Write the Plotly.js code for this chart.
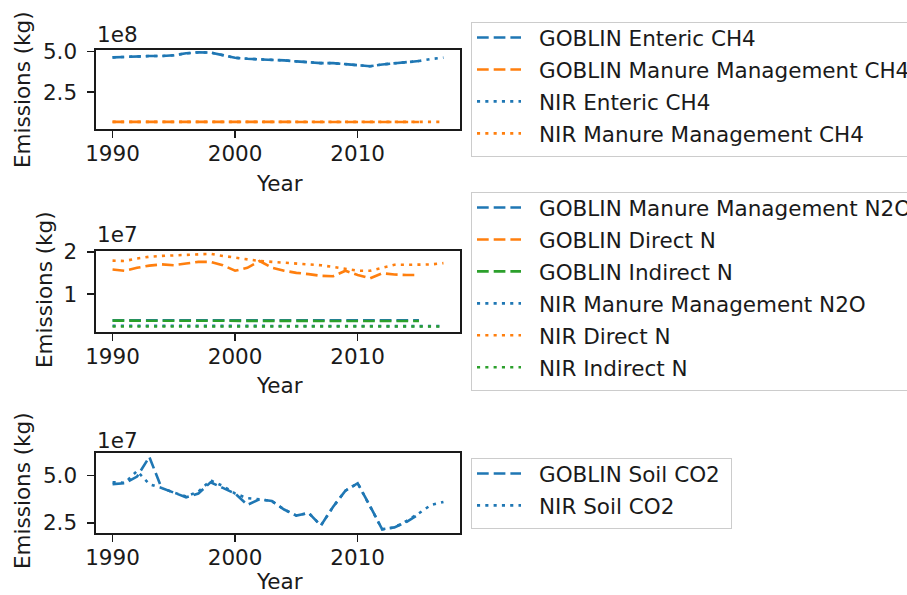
<!DOCTYPE html>
<html>
<head>
<meta charset="utf-8">
<script src="https://cdn.plot.ly/plotly-3.0.1.min.js"></script>
<style>
  html, body { margin: 0; padding: 0; background: #ffffff; }
  #chart { width: 907px; height: 595px; }
</style>
</head>
<body>
<div id="chart"></div>
<script>
// Inventory years
const yearsNIR = [1990, 1991, 1992, 1993, 1994, 1995, 1996, 1997, 1998, 1999,
                  2000, 2001, 2002, 2003, 2004, 2005, 2006, 2007, 2008, 2009,
                  2010, 2011, 2012, 2013, 2014, 2015, 2016, 2017];
const yearsGOBLIN = [1990, 1991, 1992, 1993, 1994, 1995, 1996, 1997, 1998, 1999,
                     2000, 2001, 2002, 2003, 2004, 2005, 2006, 2007, 2008, 2009,
                     2010, 2011, 2012, 2013, 2014, 2015];

// CH4 emissions (kg)
const goblinEntericCH4 = [4.65e8, 4.69e8, 4.73e8, 4.73e8, 4.73e8, 4.78e8, 4.90e8, 4.96e8, 4.95e8, 4.78e8,
                          4.62e8, 4.56e8, 4.54e8, 4.52e8, 4.46e8, 4.40e8, 4.33e8, 4.29e8, 4.29e8, 4.23e8,
                          4.15e8, 4.10e8, 4.21e8, 4.28e8, 4.35e8, 4.42e8];
const goblinManureCH4 = [0.65e8, 0.65e8, 0.65e8, 0.65e8, 0.65e8, 0.65e8, 0.65e8, 0.65e8, 0.65e8, 0.64e8,
                         0.64e8, 0.64e8, 0.63e8, 0.63e8, 0.63e8, 0.62e8, 0.62e8, 0.62e8, 0.62e8, 0.62e8,
                         0.62e8, 0.62e8, 0.62e8, 0.63e8, 0.63e8, 0.64e8];
const nirEntericCH4 = [4.65e8, 4.69e8, 4.73e8, 4.73e8, 4.73e8, 4.78e8, 4.90e8, 4.96e8, 4.95e8, 4.78e8,
                       4.62e8, 4.56e8, 4.54e8, 4.52e8, 4.46e8, 4.40e8, 4.33e8, 4.29e8, 4.29e8, 4.23e8,
                       4.15e8, 4.10e8, 4.21e8, 4.28e8, 4.35e8, 4.42e8, 4.55e8, 4.63e8];
const nirManureCH4 = [0.65e8, 0.65e8, 0.65e8, 0.65e8, 0.65e8, 0.65e8, 0.65e8, 0.65e8, 0.65e8, 0.64e8,
                      0.64e8, 0.64e8, 0.63e8, 0.63e8, 0.63e8, 0.62e8, 0.62e8, 0.62e8, 0.62e8, 0.62e8,
                      0.62e8, 0.62e8, 0.62e8, 0.63e8, 0.63e8, 0.64e8, 0.64e8, 0.65e8];

// N2O-related emissions (kg)
const goblinManureN2O = [0.38e7, 0.38e7, 0.38e7, 0.38e7, 0.38e7, 0.38e7, 0.38e7, 0.38e7, 0.38e7, 0.38e7,
                         0.38e7, 0.38e7, 0.38e7, 0.38e7, 0.38e7, 0.38e7, 0.38e7, 0.38e7, 0.38e7, 0.37e7,
                         0.37e7, 0.37e7, 0.37e7, 0.38e7, 0.38e7, 0.38e7];
const goblinDirectN = [1.58e7, 1.55e7, 1.62e7, 1.67e7, 1.70e7, 1.68e7, 1.72e7, 1.76e7, 1.76e7, 1.68e7,
                       1.55e7, 1.62e7, 1.78e7, 1.62e7, 1.55e7, 1.50e7, 1.47e7, 1.43e7, 1.42e7, 1.55e7,
                       1.45e7, 1.37e7, 1.49e7, 1.46e7, 1.45e7, 1.45e7];
const goblinIndirectN = [0.37e7, 0.37e7, 0.37e7, 0.37e7, 0.37e7, 0.37e7, 0.37e7, 0.37e7, 0.37e7, 0.37e7,
                         0.37e7, 0.37e7, 0.37e7, 0.36e7, 0.36e7, 0.36e7, 0.36e7, 0.36e7, 0.36e7, 0.36e7,
                         0.36e7, 0.36e7, 0.36e7, 0.36e7, 0.36e7, 0.36e7];
const nirManureN2O = [0.25e7, 0.25e7, 0.25e7, 0.25e7, 0.25e7, 0.25e7, 0.25e7, 0.25e7, 0.25e7, 0.25e7,
                      0.25e7, 0.25e7, 0.25e7, 0.25e7, 0.25e7, 0.25e7, 0.25e7, 0.25e7, 0.25e7, 0.25e7,
                      0.25e7, 0.25e7, 0.25e7, 0.25e7, 0.25e7, 0.24e7, 0.24e7, 0.24e7];
const nirDirectN = [1.79e7, 1.78e7, 1.84e7, 1.88e7, 1.90e7, 1.91e7, 1.93e7, 1.94e7, 1.95e7, 1.90e7,
                    1.86e7, 1.81e7, 1.78e7, 1.76e7, 1.74e7, 1.73e7, 1.71e7, 1.68e7, 1.64e7, 1.59e7,
                    1.55e7, 1.55e7, 1.62e7, 1.69e7, 1.69e7, 1.70e7, 1.70e7, 1.73e7];
const nirIndirectN = [0.23e7, 0.23e7, 0.23e7, 0.23e7, 0.23e7, 0.23e7, 0.23e7, 0.23e7, 0.23e7, 0.23e7,
                      0.23e7, 0.23e7, 0.23e7, 0.23e7, 0.23e7, 0.23e7, 0.23e7, 0.23e7, 0.23e7, 0.23e7,
                      0.23e7, 0.23e7, 0.23e7, 0.23e7, 0.23e7, 0.23e7, 0.23e7, 0.23e7];

// Soil CO2 emissions (kg)
const goblinSoilCO2 = [4.55e7, 4.60e7, 4.95e7, 6.00e7, 4.35e7, 4.10e7, 3.85e7, 4.05e7, 4.65e7, 4.35e7,
                       4.05e7, 3.45e7, 3.75e7, 3.65e7, 3.20e7, 2.88e7, 3.02e7, 2.35e7, 3.35e7, 4.20e7,
                       4.60e7, 3.40e7, 2.15e7, 2.25e7, 2.55e7, 2.95e7];
const nirSoilCO2 = [4.65e7, 4.62e7, 5.25e7, 4.55e7, 4.35e7, 4.10e7, 3.90e7, 4.15e7, 4.75e7, 4.45e7,
                    4.05e7, 3.80e7, 3.75e7, 3.65e7, 3.20e7, 2.88e7, 3.02e7, 2.35e7, 3.35e7, 4.20e7,
                    4.60e7, 3.40e7, 2.15e7, 2.25e7, 2.60e7, 3.00e7, 3.45e7, 3.60e7];

// Axis ticks and titles
const xTickVals = [1990, 2000, 2010];
const xTickText = ['1990', '2000', '2010'];
const y1TickVals = [2.5e8, 5.0e8];
const y1TickText = ['2.5', '5.0'];
const y2TickVals = [1e7, 2e7];
const y2TickText = ['1', '2'];
const y3TickVals = [2.5e7, 5.0e7];
const y3TickText = ['2.5', '5.0'];
const xTitle = 'Year';
const yTitle = 'Emissions (kg)';
const exponents = ['1e8', '1e7', '1e7'];

const BLUE = '#1f77b4', ORANGE = '#ff7f0e', GREEN = '#2ca02c';
const FONT = 'DejaVu Sans, sans-serif';
const FS = 21.5;
const TEXT = '#1a1a1a';
const W = 907, H = 595;
const DASHED = '11.7px,5px';
const DOTTED = '3.1px,5.2px';
const LW = 2.6;

function series(name, x, y, color, dash, xa, ya, legend) {
  return {
    type: 'scatter', mode: 'lines', name: name, x: x, y: y,
    xaxis: xa, yaxis: ya, legend: legend, legendgroup: name,
    line: { color: color, width: LW, dash: dash },
    hoverinfo: 'x+y+name'
  };
}

const data = [
  series('GOBLIN Enteric CH4', yearsGOBLIN, goblinEntericCH4, BLUE, DASHED, 'x', 'y', 'legend'),
  series('GOBLIN Manure Management CH4', yearsGOBLIN, goblinManureCH4, ORANGE, DASHED, 'x', 'y', 'legend'),
  series('NIR Enteric CH4', yearsNIR, nirEntericCH4, BLUE, DOTTED, 'x', 'y', 'legend'),
  series('NIR Manure Management CH4', yearsNIR, nirManureCH4, ORANGE, DOTTED, 'x', 'y', 'legend'),

  series('GOBLIN Manure Management N2O', yearsGOBLIN, goblinManureN2O, BLUE, DASHED, 'x2', 'y2', 'legend2'),
  series('GOBLIN Direct N', yearsGOBLIN, goblinDirectN, ORANGE, DASHED, 'x2', 'y2', 'legend2'),
  series('GOBLIN Indirect N', yearsGOBLIN, goblinIndirectN, GREEN, DASHED, 'x2', 'y2', 'legend2'),
  series('NIR Manure Management N2O', yearsNIR, nirManureN2O, BLUE, DOTTED, 'x2', 'y2', 'legend2'),
  series('NIR Direct N', yearsNIR, nirDirectN, ORANGE, DOTTED, 'x2', 'y2', 'legend2'),
  series('NIR Indirect N', yearsNIR, nirIndirectN, GREEN, DOTTED, 'x2', 'y2', 'legend2'),

  series('GOBLIN Soil CO2', yearsGOBLIN, goblinSoilCO2, BLUE, DASHED, 'x3', 'y3', 'legend3'),
  series('NIR Soil CO2', yearsNIR, nirSoilCO2, BLUE, DOTTED, 'x3', 'y3', 'legend3')
];

// pixel box of each panel: [top, bottom]
const boxes = [[50, 129], [251, 332], [453, 533]];
const left = 96, right = 460;

function xAxis(anchor) {
  return {
    anchor: anchor,
    domain: [left / W, right / W],
    range: [1988.65, 2018.35],
    tickvals: xTickVals, ticktext: xTickText,
    ticks: 'outside', ticklen: 7, tickwidth: 1.6, tickcolor: TEXT,
    ticklabelstandoff: -2,
    showline: true, linecolor: TEXT, linewidth: 1.6, mirror: true,
    showgrid: false, zeroline: false,
    tickfont: { family: FONT, size: FS, color: TEXT },
    automargin: false
  };
}
function yAxis(anchor, box, range, vals, text) {
  return {
    anchor: anchor,
    domain: [1 - box[1] / H, 1 - box[0] / H],
    range: range,
    tickvals: vals, ticktext: text,
    ticks: 'outside', ticklen: 7, tickwidth: 1.6, tickcolor: TEXT,
    ticklabelstandoff: 6,
    showline: true, linecolor: TEXT, linewidth: 1.6, mirror: true,
    showgrid: false, zeroline: false,
    tickfont: { family: FONT, size: FS, color: TEXT },
    automargin: false
  };
}
function legendAt(topPx) {
  return {
    x: 471 / W, y: 1 - topPx / H, xanchor: 'left', yanchor: 'top',
    bgcolor: '#ffffff', bordercolor: '#cccccc', borderwidth: 1,
    font: { family: FONT, size: FS, color: TEXT },
    itemwidth: 44, tracegroupgap: 1
  };
}
function label(text, xPx, yPx, angle, xanchor) {
  return {
    xref: 'paper', yref: 'paper', x: xPx / W, y: 1 - yPx / H,
    xanchor: xanchor, yanchor: 'middle', text: text, showarrow: false,
    textangle: angle, font: { family: FONT, size: FS, color: TEXT }
  };
}

const annotations = [
  label(exponents[0], 95, 34.5, 0, 'left'),
  label(exponents[1], 95, 235, 0, 'left'),
  label(exponents[2], 95, 440, 0, 'left'),
  label(xTitle, 279, 183, 0, 'center'),
  label(xTitle, 279, 385, 0, 'center'),
  label(xTitle, 279, 581, 0, 'center'),
  label(yTitle, 22, 90, -90, 'center'),
  label(yTitle, 44, 290, -90, 'center'),
  label(yTitle, 22, 491, -90, 'center')
];

const layout = {
  width: W, height: H,
  margin: { l: 0, r: 0, t: 0, b: 0 },
  paper_bgcolor: '#ffffff', plot_bgcolor: '#ffffff',
  font: { family: FONT, size: FS, color: TEXT },
  xaxis: xAxis('y'),
  yaxis: yAxis('x', boxes[0], [0.205e8, 5.105e8], y1TickVals, y1TickText),
  xaxis2: xAxis('y2'),
  yaxis2: yAxis('x2', boxes[1], [0.1017e7, 2.0166e7], y2TickVals, y2TickText),
  xaxis3: xAxis('y3'),
  yaxis3: yAxis('x3', boxes[2], [1.952e7, 6.207e7], y3TickVals, y3TickText),
  legend: legendAt(16),
  legend2: legendAt(186),
  legend3: legendAt(452),
  annotations: annotations,
  showlegend: true
};

// Legend frame tweaks: wider gap between sample line and label,
// a little more room at the top and bottom of each frame.
const LABEL_GAP = 13;
const FRAME_WIDEN = 19;
const FRAME_TOP = 6;
const FRAME_BOTTOM = 2;

function tidyLegends(gd) {
  const groups = Array.from(gd.querySelectorAll('g')).filter(function (g) {
    return /^legend\d*$/.test((g.getAttribute('class') || '').trim());
  });
  groups.forEach(function (g) {
    g.querySelectorAll('g.traces').forEach(function (tr) {
      tr.querySelectorAll('text').forEach(function (t) {
        t.setAttribute('transform', 'translate(' + LABEL_GAP + ',0)');
      });
    });
    const r = g.querySelector('rect.bg');
    if (r) {
      const y = parseFloat(r.getAttribute('y') || '0');
      const h = parseFloat(r.getAttribute('height') || '0');
      const w = parseFloat(r.getAttribute('width') || '0');
      const sig = [y, h, w].join(',');
      if (r.dataset.sig !== sig) {
        const ny = y + FRAME_TOP, nh = h - FRAME_TOP + FRAME_BOTTOM, nw = w + FRAME_WIDEN;
        r.setAttribute('y', ny);
        r.setAttribute('height', nh);
        r.setAttribute('width', nw);
        r.dataset.sig = [ny, nh, nw].join(',');
      }
    }
  });
  gd.querySelectorAll('clipPath').forEach(function (cp) {
    if (!/legend/.test(cp.id)) return;
    cp.querySelectorAll('rect').forEach(function (cr) {
      const w = parseFloat(cr.getAttribute('width') || '0');
      if (cr.dataset.w !== String(w)) {
        const nw = w + FRAME_WIDEN;
        cr.setAttribute('width', nw);
        cr.dataset.w = String(nw);
      }
    });
  });
}

Plotly.newPlot('chart', data, layout, { displayModeBar: false, staticPlot: true }).then(function (gd) {
  tidyLegends(gd);
  gd.on('plotly_afterplot', function () { tidyLegends(gd); });
  setTimeout(function () { tidyLegends(gd); }, 30);
  setTimeout(function () { tidyLegends(gd); }, 200);
});
</script>
</body>
</html>
